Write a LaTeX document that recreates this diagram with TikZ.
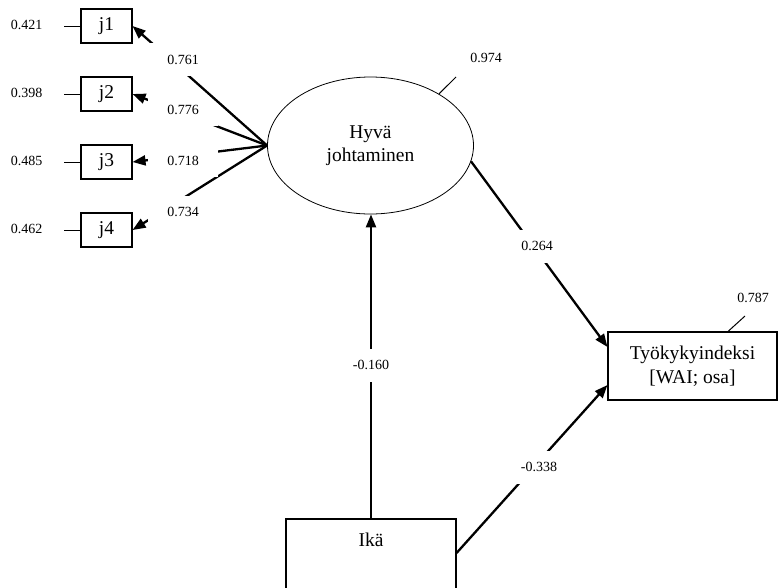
\documentclass[tikz,border=0pt]{standalone}
\usepackage{fontspec}
\setmainfont{Liberation Serif}
\usetikzlibrary{arrows.meta,calc,shapes.geometric}
\begin{document}
\begin{tikzpicture}[x=1pt,y=1pt,
  big/.style={font=\fontsize{19.5}{23.5}\selectfont},
  num/.style={font=\fontsize{14}{16}\selectfont, inner sep=0pt},
  ind/.style={draw, line width=1.1pt, minimum width=51pt, minimum height=34pt, inner sep=0pt, big},
  coef/.style={num, fill=white, minimum width=70pt, minimum height=33pt},
  arr/.style={line width=2.3pt, -{Triangle[length=13pt,width=10pt]}},
  err/.style={line width=1pt},
]
\fill[white] (0,0) rectangle (781,-587);
\useasboundingbox (0,0) rectangle (781,-587);

% indicators
\node[ind] (j1) at (106.5,-26) {j1};
\node[ind] (j2) at (106.5,-94) {j2};
\node[ind] (j3) at (106.5,-162) {j3};
\node[ind] (j4) at (106.5,-230) {j4};

% latent
\node[draw, ellipse, line width=0.8pt, minimum width=206pt, minimum height=137pt,
      inner sep=0pt, big, align=center] (hj) at (370.5,-145.5) {Hyvä\\johtaminen};

% outcome
\node[draw, line width=1.1pt, minimum width=169pt, minimum height=68pt, inner sep=0pt,
      big, align=center] (tw) at (692.5,-366) {Työkykyindeksi\\{[WAI; osa]}};

% age
\node[draw, line width=1.1pt, minimum width=170pt, inner sep=0pt, big,
      text height=27pt, text depth=54pt, anchor=base] (ika) at (371,-546) {Ikä};

% error terms
\coordinate (e1) at (64,-26);
\coordinate (e2) at (64,-94);
\coordinate (e3) at (64,-162);
\coordinate (e4) at (64,-230);
\draw[err] (e1) -- (j1.west);
\draw[err] (e2) -- (j2.west);
\draw[err] (e3) -- (j3.west);
\draw[err] (e4) -- (j4.west);
\node[num] (v1) at (26.5,-24.5) {0.421};
\node[num] (v2) at (26.5,-92.5) {0.398};
\node[num] (v3) at (26.5,-160.5) {0.485};
\node[num] (v4) at (26.5,-228.5) {0.462};

\coordinate (e5) at (456,-77);
\draw[err] (hj.37) -- (e5);
\node[num] (v5) at (486,-58) {0.974};

\coordinate (e6) at (745,-316);
\draw[err] ($(tw.north)+(35.5,0)$) -- (e6);
\node[num] (v6) at (753,-297.5) {0.787};

% loadings (drawn from j4 to j1, each label right after its line)
\draw[arr] (hj.west) -- (j4.east);
\node[coef] (l4) at (183,-212) {0.734};
\draw[arr] (hj.west) -- (j3.east);
\node[coef] (l3) at (183,-160.5) {0.718};
\draw[arr] (hj.west) -- (j2.east);
\node[coef] (l2) at (183,-109.5) {0.776};
\draw[arr] (hj.west) -- (j1.east);
\node[coef] (l1) at (183,-59.5) {0.761};

% structural paths
\draw[arr] (hj.-9) -- ($(tw.west)+(0,19)$);
\node[coef] (l5) at (537,-246) {0.264};

\draw[arr] (ika.north) -- (ika.north |- hj.south);
\node[coef] (l6) at (371,-365) {-0.160};

\draw[arr] ($(ika.east)+(0,6.5)$) -- ($(tw.west)+(0,-19)$);
\node[coef] (l7) at (539,-467) {-0.338};
\end{tikzpicture}
\end{document}
